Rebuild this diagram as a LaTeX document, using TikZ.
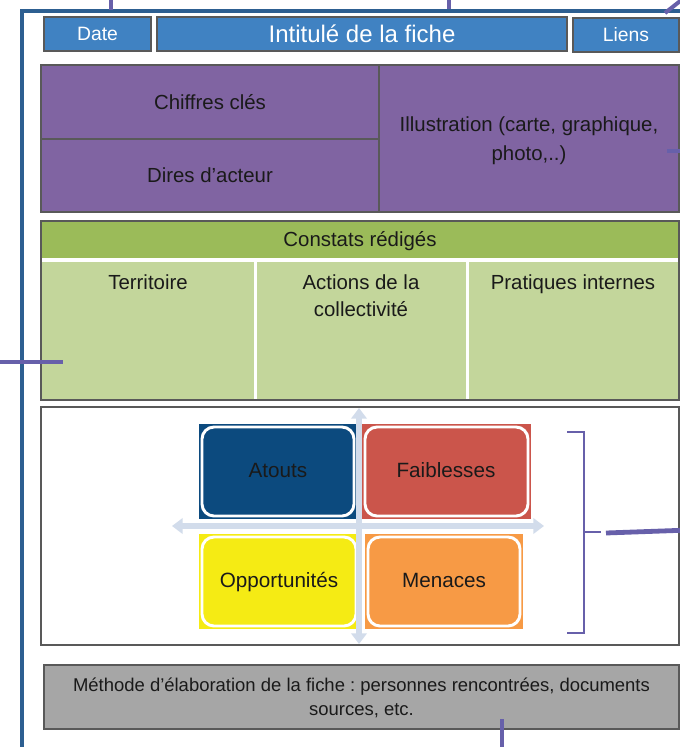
\documentclass[tikz,border=0pt]{standalone}
\usepackage{fontspec}
\setmainfont{Liberation Sans}
\usetikzlibrary{fit,arrows.meta}
\frenchspacing
\definecolor{hdrblue}{HTML}{4082C2}
\definecolor{bordergray}{HTML}{595959}
\definecolor{purplefill}{HTML}{8064A2}
\definecolor{greenhdr}{HTML}{9BBB59}
\definecolor{greenbody}{HTML}{C3D69B}
\definecolor{frameblue}{HTML}{2D5F91}
\definecolor{connpurple}{HTML}{6760AA}
\definecolor{atoutc}{HTML}{0C4A7E}
\definecolor{faibc}{HTML}{CB554B}
\definecolor{oppc}{HTML}{F5EB14}
\definecolor{menc}{HTML}{F79A45}
\definecolor{arrowc}{HTML}{D2DCEB}
\definecolor{graybox}{HTML}{A6A6A6}
\definecolor{txt}{HTML}{1A1A1A}
\begin{document}
\begin{tikzpicture}[x=0.75pt,y=-0.75pt,
  box/.style={draw=bordergray,line width=1.9pt,inner sep=0pt},
  hdrbox/.style={box,fill=hdrblue},
  purplebox/.style={box,fill=purplefill},
  lbl/.style={inner sep=0pt,text=txt,align=center,font=\fontsize{15.3}{21.5}\selectfont},
  hdrlbl/.style={inner sep=0pt,text=white,font=\fontsize{14.5}{17}\selectfont},
  cellbox/.style={inner sep=0pt,fill=greenbody},
  coltext/.style={anchor=north,inner sep=0pt,text=txt,align=center,font=\fontsize{15.3}{20.5}\selectfont},
  swotbox/.style={inner sep=0pt,draw=white,line width=2.2pt,rounded corners=9pt},
  swotlbl/.style={inner sep=0pt,text=txt,text height=11pt,text depth=3pt,font=\fontsize{15.5}{18}\selectfont},
  conn/.style={draw=connpurple,line width=3pt},
  connthin/.style={draw=connpurple,line width=2.1pt},
  framestyle/.style={draw=frameblue,line width=2.3pt},
  axis/.style={draw=arrowc,line width=3.8pt,{Triangle[width=11.5pt,length=8pt]}-{Triangle[width=11.5pt,length=8pt]}}
]
\useasboundingbox (0,0) rectangle (680,747);
\clip (0,0) rectangle (680,747);
\fill[white] (0,0) rectangle (680,747);

% outer frame
\coordinate (fbl) at (22,760);
\coordinate (ftl) at (22,11);
\coordinate (ftr) at (700,11);
\draw[framestyle] (fbl) -- (ftl) -- (ftr);

% header
\node[hdrbox,fit={(44,17)(151,51)}] (date) {};
\node[hdrlbl] (datet) at (date.center) {Date};
\node[hdrbox,fit={(157,17)(567,51)}] (titre) {};
\node[hdrlbl,font=\fontsize{18}{21}\selectfont] (titret) at (titre.center) {Intitulé de la fiche};
\node[hdrbox,fit={(573,18)(679,52)}] (liens) {};
\node[hdrlbl] (lienst) at (liens.center) {Liens};

% purple section
\node[purplebox,fit={(41,65)(379,139)}] (chiffres) {};
\node[lbl] (chiffrest) at (chiffres.center) {Chiffres clés};
\node[purplebox,fit={(41,139)(379,212)}] (dires) {};
\node[lbl] (direst) at (dires.center) {Dires d’acteur};
\node[purplebox,fit={(379,65)(679,212)}] (illus) {};
\node[lbl,font=\fontsize{15.3}{22}\selectfont] (illust) at ([yshift=-1.5pt]illus.center) {Illustration (carte, graphique,\\ photo,..)};

% green section
\node[inner sep=0pt,fill=greenhdr,fit={(42,222)(678,258)}] (constats) {};
\node[lbl] (constatst) at ([yshift=-1pt]constats.center) {Constats rédigés};
\node[cellbox,fit={(42,261.5)(253.5,399)}] (terr) {};
\node[cellbox,fit={(256.5,261.5)(465.5,399)}] (actions) {};
\node[cellbox,fit={(468.5,261.5)(678,399)}] (pratiques) {};
\node[box,fit={(41,221)(679,400)}] (green) {};
\node[coltext] (terrt) at (148,274) {Territoire};
\node[coltext] (actt) at (361,274) {Actions de la\\ collectivité};
\node[coltext] (pratt) at (573,274) {Pratiques internes};

% SWOT section
\node[box,fill=white,fit={(41,407)(679,645)}] (swot) {};
\fill[atoutc] (199,424) rectangle (357,519);
\fill[faibc] (362,424) rectangle (531,519);
\fill[oppc] (199,534) rectangle (359,629);
\fill[menc] (365,534) rectangle (523,629);
\node[swotbox,fill=atoutc,fit={(202,427)(354,516)}] (atouts) {};
\node[swotbox,fill=faibc,fit={(365,427)(528,516)}] (faib) {};
\node[swotbox,fill=oppc,fit={(202,537)(356,626)}] (opp) {};
\node[swotbox,fill=menc,fit={(368,537)(520,626)}] (men) {};
\node[swotlbl] (atoutst) at (278,472) {Atouts};
\node[swotlbl] (faibt) at (446,472) {Faiblesses};
\node[swotlbl] (oppt) at (279,582) {Opportunités};
\node[swotlbl] (ment) at (444,582) {Menaces};
\coordinate (hl) at (172,526);
\coordinate (hr) at (544,526);
\coordinate (vt) at (359,408);
\coordinate (vb) at (359,644);
\draw[axis] (hl) -- (hr);
\draw[axis] (vt) -- (vb);

% bottom gray box
\node[box,fill=graybox,fit={(44,665)(679,729)}] (methode) {};
\node[lbl,font=\fontsize{13.85}{18}\selectfont] (methodet) at ([yshift=-0.5pt]methode.center) {Méthode d’élaboration de la fiche : personnes rencontrées, documents\\ sources, etc.};

% purple connectors
\coordinate (c1a) at (111,-2);
\coordinate (c1b) at (111,10);
\draw[conn] (c1a) -- (c1b);
\coordinate (c2a) at (449,-2);
\coordinate (c2b) at (449,9);
\draw[conn] (c2a) -- (c2b);
\coordinate (c3a) at (665,13);
\coordinate (c3b) at (684,-2);
\draw[conn] (c3a) -- (c3b);
\coordinate (c4a) at (-5,362);
\coordinate (c4b) at (63,362);
\draw[conn] (c4a) -- (c4b);
\coordinate (c5a) at (667,151);
\coordinate (c5b) at (690,151);
\draw[conn] (c5a) -- (c5b);
\coordinate (c6a) at (502,719);
\coordinate (c6b) at (502,760);
\draw[conn] (c6a) -- (c6b);
\coordinate (br1) at (567,432);
\coordinate (br2) at (584,432);
\coordinate (br3) at (584,633);
\coordinate (br4) at (567,633);
\coordinate (brm) at (584,532);
\coordinate (brt) at (601,532);
\draw[connthin] (br1) -- (br2) -- (br3) -- (br4);
\draw[connthin] (brm) -- (brt);
\coordinate (c7a) at (606,533);
\coordinate (c7b) at (690,530);
\draw[connpurple,line width=3.6pt] (c7a) -- (c7b);
\end{tikzpicture}
\end{document}
